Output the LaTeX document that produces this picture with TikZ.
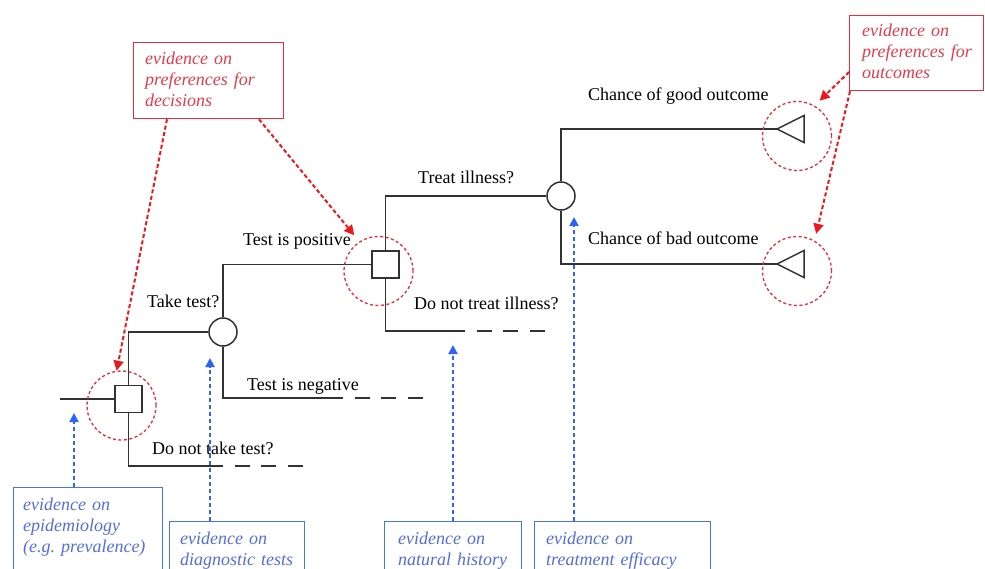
\documentclass[tikz,border=0pt]{standalone}
\usepackage{fontspec}
\setmainfont{Liberation Serif}
\usetikzlibrary{arrows.meta,calc}
\definecolor{treeline}{RGB}{50,50,50}
\definecolor{evred}{RGB}{232,45,55}
\definecolor{evredtext}{RGB}{225,60,75}
\definecolor{evblue}{RGB}{70,115,235}
\definecolor{evbluetext}{RGB}{85,110,215}
\definecolor{arrred}{RGB}{235,25,30}
\definecolor{arrblue}{RGB}{45,100,245}
\begin{document}
\begin{tikzpicture}[x=1pt,y=-1pt,
  tree/.style={draw=treeline, line width=1.5pt},
  ext/.style={tree, dash pattern=on 15pt off 11.5pt, dash phase=15pt},
  decbox/.style={rectangle, draw=treeline, line width=1.5pt, fill=white, minimum size=27pt, inner sep=0pt},
  chancenode/.style={circle, draw=treeline, line width=1.5pt, fill=white, minimum size=28pt, inner sep=0pt},
  focus/.style={circle, draw=evred, line width=1.3pt, dash pattern=on 3pt off 2.5pt, minimum size=69pt, inner sep=0pt},
  lbl/.style={font=\fontsize{18}{21}\selectfont, anchor=base west, inner sep=0pt},
  redbox/.style={rectangle, draw=evred, line width=1.3pt, inner sep=0pt, anchor=north west},
  bluebox/.style={rectangle, draw=evblue, line width=1.3pt, inner sep=0pt, anchor=north west},
  redtxt/.style={text=evredtext, font=\fontsize{18}{21}\selectfont\itshape, text width=160pt, align=left, anchor=base west, inner sep=0pt},
  bluetxt/.style={text=evbluetext, font=\fontsize{18}{21}\selectfont\itshape, text width=170pt, align=left, anchor=base west, inner sep=0pt},
  redarrow/.style={draw=arrred, line width=2pt, dash pattern=on 4pt off 2.5pt, -{Triangle[length=10pt,width=10pt]}},
  bluearrow/.style={draw=arrblue, line width=2pt, dash pattern=on 4pt off 3pt, -{Triangle[length=9pt,width=9pt]}}
]
\clip (0,0) rectangle (985,569);
\fill[white] (0,0) rectangle (985,569);

% decision tree nodes
\coordinate (start) at (60,399);
\node[decbox] (d1) at (128.5,399) {};
\node[chancenode] (c1) at (223,332) {};
\node[decbox] (d2) at (385.5,264.5) {};
\node[chancenode] (c2) at (561,196) {};
\coordinate (t1) at (777,129);
\coordinate (t2) at (777,264);
\coordinate (e1) at (223,466);
\coordinate (e1end) at (305,466);
\coordinate (e2) at (343,398);
\coordinate (e2end) at (425,398);
\coordinate (e3) at (465,331);
\coordinate (e3end) at (548,331);

% branches
\draw[tree] (start) -- (d1.west);
\draw[tree] (d1.north) |- (c1.west);
\draw[tree] (d1.south) |- (e1);
\draw[ext] (e1) -- (e1end);
\draw[tree] (c1.north) |- (d2.west);
\draw[tree] (c1.south) |- (e2);
\draw[ext] (e2) -- (e2end);
\draw[tree] (d2.north) |- (c2.west);
\draw[tree] (d2.south) |- (e3);
\draw[ext] (e3) -- (e3end);
\draw[tree] (c2.north) |- (t1);
\draw[tree] (c2.south) |- (t2);
\draw[tree, fill=white] (t1) -- ++(27,-13.5) -- ++(0,27) -- cycle;
\draw[tree, fill=white] (t2) -- ++(27,-13.5) -- ++(0,27) -- cycle;

% branch labels
\node[lbl] (l1) at (147,308) {Take test?};
\node[lbl] (l2) at (243,246) {Test is positive};
\node[lbl] (l3) at (247,390) {Test is negative};
\node[lbl] (l4) at (152,454) {Do not take test?};
\node[lbl] (l5) at (418,184) {Treat illness?};
\node[lbl] (l6) at (414,309) {Do not treat illness?};
\node[lbl] (l7) at (588,101) {Chance of good outcome};
\node[lbl] (l8) at (588,245) {Chance of bad outcome};

% focus circles
\node[focus] (f1) at (121.5,405.5) {};
\node[focus] (f2) at (378.5,271) {};
\node[focus] (f3) at (797,136) {};
\node[focus] (f4) at (797,271) {};

% red evidence boxes
\node[redbox, minimum width=150pt, minimum height=76pt] (rb1) at (133,42) {};
\node[redtxt] (rt1) at ($(rb1.north west)+(12,23)$) {evidence on\\preferences for\\decisions};
\node[redbox, minimum width=134pt, minimum height=75pt] (rb2) at (849,15) {};
\node[redtxt] (rt2) at ($(rb2.north west)+(13,22)$) {evidence on\\preferences for\\outcomes};

% blue evidence boxes
\node[bluebox, minimum width=149pt, minimum height=100pt] (bb1) at (13,487) {};
\node[bluetxt] (bt1) at ($(bb1.north west)+(10,23)$) {evidence on\\epidemiology\\(e.g.\ prevalence)};
\node[bluebox, minimum width=135pt, minimum height=60pt] (bb2) at (169,521) {};
\node[bluetxt] (bt2) at ($(bb2.north west)+(11,23)$) {evidence on\\diagnostic tests};
\node[bluebox, minimum width=137pt, minimum height=60pt] (bb3) at (384,521) {};
\node[bluetxt] (bt3) at ($(bb3.north west)+(14,23)$) {evidence on\\natural history};
\node[bluebox, minimum width=176pt, minimum height=60pt] (bb4) at (534,521) {};
\node[bluetxt] (bt4) at ($(bb4.north west)+(12,23)$) {evidence on\\treatment efficacy};

% red arrows
\draw[redarrow] ($(rb1.south west)+(34,0)$) -- (f1.98);
\draw[redarrow, shorten >=8pt] ($(rb1.south west)+(126,0)$) -- (f2.123);
\draw[redarrow, shorten >=7pt] ($(rb2.north west)+(0,57)$) -- (f3.60);
\draw[redarrow, shorten >=7pt] ($(rb2.south west)+(1,0)$) -- (f4.60);

% blue arrows
\coordinate (ba1) at (74,413);
\coordinate (ba2) at (210,358);
\coordinate (ba3) at (453,345);
\coordinate (ba4) at (574,217);
\draw[bluearrow] (ba1 |- bb1.north) -- (ba1);
\draw[bluearrow] (ba2 |- bb2.north) -- (ba2);
\draw[bluearrow] (ba3 |- bb3.north) -- (ba3);
\draw[bluearrow] (ba4 |- bb4.north) -- (ba4);
\end{tikzpicture}
\end{document}
